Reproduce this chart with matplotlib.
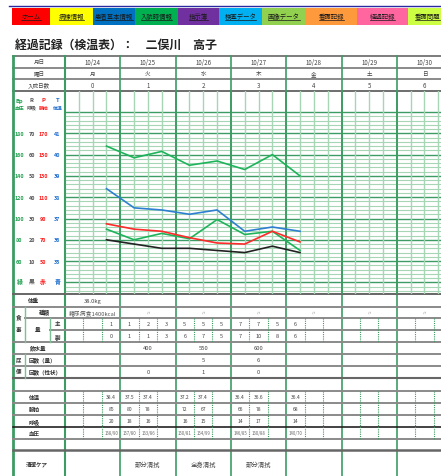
import numpy as np
import matplotlib.pyplot as plt
from matplotlib.patches import Rectangle
from matplotlib.transforms import blended_transform_factory

plt.rcParams['font.family'] = ['Noto Sans CJK JP', 'DejaVu Sans']

# メニュー
nav_labels = ['ホーム', '病棟情報', '患者基本情報', '入院時情報', '指示簿',
              '検査データ', '画像データ', '看護記録', '経過記録', '看護問題']
nav_colors = ['#ff0000', '#ffff00', '#0070c0', '#00b050', '#7030a0',
              '#00b0f0', '#92d050', '#ff9a3c', '#ff66a0', '#ccff44']

title = '経過記録（検温表）：　二俣川　高子'

dates = ['10/24', '10/25', '10/26', '10/27', '10/28', '10/29', '10/30']
weekdays = ['月', '火', '水', '木', '金', '土', '日']
stay_days = [0, 1, 2, 3, 4, 5, 6]

# 目盛
t_ticks = [41, 40, 39, 38, 37, 36, 35]
bp_ticks = [180, 160, 140, 120, 100, 80, 60]
r_ticks = [70, 60, 50, 40, 30, 20, 10]
p_ticks = [170, 150, 130, 110, 90, 70, 50]

# 測定 (日, 回)
meas_day = [0, 1, 1, 2, 2, 3, 3, 4]
meas_shift = [2, 0, 1, 0, 1, 0, 1, 0]
temp = [38.4, 37.5, 37.4, 37.2, 37.4, 36.4, 36.6, 36.4]
pulse = [85, 80, 78, 72, 67, 66, 78, 68]
resp = [20, 18, 16, 16, 15, 14, 17, 14]
bp_sys = [168, 157, 163, 150, 154, 146, 160, 140]
bp_dia = [90, 80, 86, 81, 99, 85, 88, 70]

weight = ['38.0kg', '', '', '', '', '', '']
meal_kind = ['糖尿病食1400kcal', '〃', '〃', '〃', '〃', '〃', '〃']
meal_main = [['', '', '1'], ['1', '2', '3'], ['5', '5', '5'], ['7', '7', '5'],
             ['6', '', ''], ['', '', ''], ['', '', '']]
meal_side = [['', '', '0'], ['1', '1', '3'], ['6', '7', '5'], ['7', '10', '8'],
             ['6', '', ''], ['', '', ''], ['', '', '']]
water = ['', '400', '550', '600', '', '', '']
urine = ['', '', '5', '6', '', '', '']
stool = ['', '0', '1', '0', '', '', '']
care = ['', '部分清拭', '全身清拭', '部分清拭', '', '', '']

W, H = 441, 477
XL = 13
X0 = 65
DW = 55.3
GT, GB = 92, 295
Y41 = 134.3
PPD = 21.3
GREEN_D = '#3d9c63'
GREEN_L = '#a6d6b6'
SEP = '#8a8a8a'
TXT = '#444444'


def day_x(d):
    return X0 + d * DW


def to_t(vals, ticks):
    return np.interp(vals, ticks[::-1], t_ticks[::-1])


fig = plt.figure(figsize=(W / 100, H / 100), dpi=100)
bg = fig.add_axes([0, 0, 1, 1])
bg.set_xlim(0, W)
bg.set_ylim(H, 0)
bg.axis('off')


def txt(x, y, s, size=4.2, color=TXT, **kw):
    return bg.text(x, y, s, fontsize=size, color=color, ha='center', va='center', **kw)


# ナビ
bg.plot([9, W], [7.3, 7.3], color='#2a2aa0', lw=1)
edges = [12, 50, 93, 135, 178, 219, 262, 306, 357, 408, 441]
nav_texts = []
for i, lab in enumerate(nav_labels):
    bg.add_patch(Rectangle((edges[i], 8.5), edges[i + 1] - edges[i], 17.5,
                           color=nav_colors[i], lw=0))
    cx = (edges[i] + edges[i + 1]) / 2
    if i == len(nav_labels) - 1:
        cx = 427.5
    nav_texts.append(txt(cx, 16.8, lab, size=4.6, color='#1a1a1a'))

bg.text(15, 45.5, title, fontsize=8.6, fontweight='bold', color='#222222',
        ha='left', va='center')

# ヘッダ表
for y, c, lw in [(57, '#666666', 1.2), (68.5, SEP, 1.4), (80, SEP, 1.4), (92, '#555555', 1.2)]:
    bg.plot([XL, W], [y, y], color=c, lw=lw)
txt(39, 62.8, '月日', size=4)
txt(39, 74.3, '曜日', size=4)
txt(39, 86, '入院日数', size=4)
for d in range(7):
    cx = day_x(d + 0.5)
    txt(cx, 62.8, dates[d], size=4.4)
    txt(cx, 74.3, weekdays[d], size=4)
    txt(cx, 86, str(stay_days[d]), size=4.4)

# 縦線
bg.plot([XL, XL], [57, H], color=GREEN_D, lw=2)
for d in range(8):
    x = day_x(d)
    bg.plot([x, x], [57, H], color=GREEN_D, lw=1.5 if d == 0 else 1.2)

# グラフ
g = fig.add_axes([X0 / W, 1 - GB / H, (W - X0) / W, (GB - GT) / H])
g.set_xlim(0, (W - X0) / DW)
g.set_ylim(41 - (GB - Y41) / PPD, 41 + (Y41 - GT) / PPD)
g.axis('off')
for v in np.round(np.arange(33.6, 42.01, 0.2), 1):
    major = abs(v - round(v)) < 1e-6
    g.axhline(v, color=GREEN_D if major else GREEN_L, lw=1.0 if major else 0.8, zorder=1)
for d in range(8):
    for s in range(4):
        g.axvline(d + s / 4, color=GREEN_D if s == 0 else GREEN_L,
                  lw=1.3 if s == 0 else 1.0, zorder=1)

xs = 0.75 + 0.5 * np.arange(len(temp))
g.plot(xs, to_t(bp_sys, bp_ticks), color='#1fb35b', lw=1.2, zorder=3)
g.plot(xs, to_t(bp_dia, bp_ticks), color='#1fb35b', lw=1.2, zorder=3)
g.plot(xs, to_t(resp, r_ticks), color='#222222', lw=1.2, zorder=3)
g.plot(xs, to_t(pulse, p_ticks), color='#ff2a2a', lw=1.2, zorder=3)
g.plot(xs, temp, color='#2e7fd1', lw=1.2, zorder=3)

# 目盛ラベル
col_x = [19.5, 31.7, 43.3, 57.3]
col_c = ['#1fa050', '#555555', '#ff1a1a', '#1f6fd0']
for x, c, h1, h2 in zip(col_x, col_c, ['Bp', 'R', 'P', 'T'], ['血圧', '呼吸', '脈拍', '体温']):
    txt(x, 101, h1, size=4.2, color=c, fontweight='bold')
    txt(x, 108, h2, size=3.5, color=c, fontweight='bold')
trans = blended_transform_factory(bg.transData, g.transData)
for i, t in enumerate(t_ticks):
    for x, c, tk in zip(col_x, col_c, [bp_ticks, r_ticks, p_ticks, t_ticks]):
        bg.text(x, t, str(tk[i]), transform=trans, fontsize=3.9, color=c,
                fontweight='bold', ha='center', va='center')
for x, c, s in zip(col_x, col_c, ['緑', '黒', '赤', '青']):
    bg.text(x, 34.05, s, transform=trans, fontsize=4.2, color=c,
            fontweight='bold', ha='center', va='center')

# 下の表
rows = [(295, XL, '#666666', 1.4), (308, XL, SEP, 1.4), (319, 25, SEP, 1.4),
        (331, 50, SEP, 1.4), (343, XL, SEP, 1.4), (355, XL, SEP, 1.4),
        (367, XL, SEP, 1.4), (378.5, XL, '#666666', 1.5), (392, XL, SEP, 1.4),
        (404, XL, SEP, 1.4), (416, XL, SEP, 1.4), (428, XL, '#222222', 1.2),
        (440, XL, SEP, 1.4), (451, XL, '#666666', 1.8)]
for y, x0, c, lw in rows:
    bg.plot([x0, W], [y, y], color=c, lw=lw)
bg.plot([25, 25], [308, 343], color='#7fbf98', lw=1)
bg.plot([25, 25], [355, 378.5], color='#7fbf98', lw=1)
bg.plot([50, 50], [319, 343], color='#7fbf98', lw=1)
for y0, y1 in [(319, 343), (392, 440)]:
    for d in range(7):
        for s in (1, 2):
            x = day_x(d + s / 3)
            bg.plot([x, x], [y0, y1], color=GREEN_D, lw=0.8, ls=(0, (1, 1)))

lab = dict(size=4, color='#333333', fontweight='bold')
txt(33, 301.5, '体重', **lab)
txt(19, 318, '食', **lab)
txt(19, 331, '事', **lab)
txt(44, 313.5, '種類', **lab)
txt(37.5, 331, '量', **lab)
txt(57.5, 325, '主', **lab)
txt(57.5, 337, '副', **lab)
txt(38, 349, '飲水量', **lab)
txt(19, 361, '尿', **lab)
txt(42, 361, '回数（量）', **lab)
txt(19, 372.7, '便', **lab)
txt(45, 372.7, '回数（性状）', **lab)
txt(34, 398, '体温', **lab)
txt(34, 410, '脈拍', **lab)
txt(34, 422, '呼吸', **lab)
txt(34, 434, '血圧', **lab)
txt(37, 465, '清潔ケア', **lab)

for d in range(7):
    cx = day_x(d + 0.5)
    txt(cx, 301.5, weight[d], size=4.2)
    txt(cx, 313.5, meal_kind[d], size=4.2 if d == 0 else 3.8, color='#555555' if d == 0 else '#999999')
    for s in range(3):
        sx = day_x(d + (s + 0.5) / 3)
        txt(sx, 325, meal_main[d][s], size=4)
        txt(sx, 337, meal_side[d][s], size=4)
    txt(cx, 349, water[d], size=4.2)
    txt(cx, 361, urine[d], size=4.2)
    txt(cx, 372.7, stool[d], size=4.2)
    txt(cx, 465, care[d], size=4.6)

for i in range(len(temp)):
    sx = day_x(meas_day[i] + (meas_shift[i] + 0.5) / 3)
    txt(sx, 398, f'{temp[i]:.1f}', size=3.6)
    txt(sx, 410, str(pulse[i]), size=3.6)
    txt(sx, 422, str(resp[i]), size=3.6)
    txt(sx, 434, f'{bp_sys[i]}/{bp_dia[i]}', size=3.1, color='#666666')

# 下線
fig.canvas.draw()
inv = bg.transData.inverted()
for t in nav_texts:
    bb = t.get_window_extent()
    (x0, ya), (x1, yb) = inv.transform([[bb.x0, bb.y0], [bb.x1, bb.y1]])
    bg.plot([x0, x1], [max(ya, yb) - 0.3] * 2, color='#1a1a1a', lw=0.5)

fig.savefig('out.png', dpi=100)
